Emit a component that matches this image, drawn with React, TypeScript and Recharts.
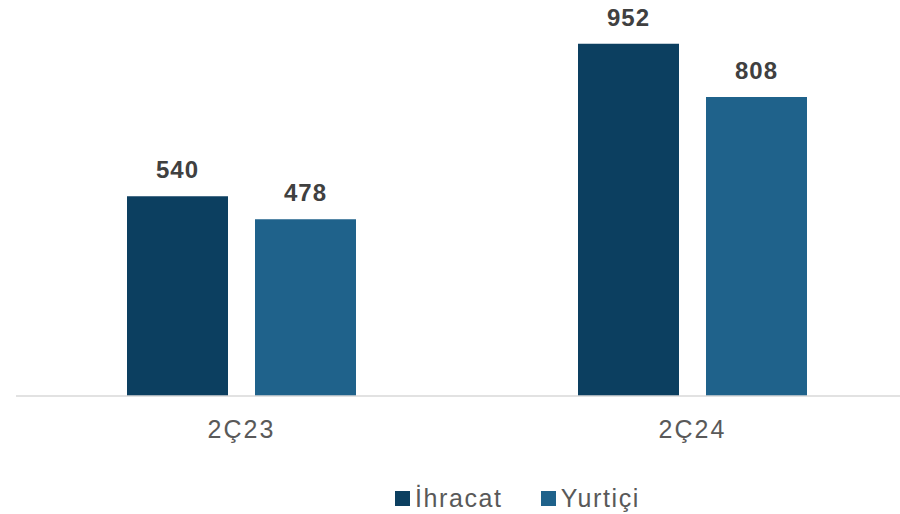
import { BarChart, Bar, XAxis, YAxis, Legend, LabelList } from "recharts";

// quarterly sales, export vs domestic
const periods = ["2Ç23", "2Ç24"];
const ihracat = [540, 952];
const yurtici = [478, 808];
const seriesNames = ["İhracat", "Yurtiçi"];
const seriesColors = ["#0c3f60", "#1f628b"];

const data = periods.map((p, i) => ({
  period: p,
  ihracat: ihracat[i],
  yurtici: yurtici[i],
}));

const FONT = '"Liberation Sans", Arial, sans-serif';

// legend keeps series order (the built-in one sorts by name)
function LegendContent() {
  return (
    <div style={{ display: "flex", alignItems: "center", fontFamily: FONT }}>
      {seriesNames.map((name, i) => (
        <div
          key={name}
          style={{
            display: "flex",
            alignItems: "center",
            marginRight: i === 0 ? 38 : 0,
          }}
        >
          <span
            style={{
              display: "inline-block",
              width: 15,
              height: 15,
              background: seriesColors[i],
              marginRight: 5,
            }}
          />
          <span style={{ fontSize: 25, color: "#595959", letterSpacing: 1.6 }}>
            {name}
          </span>
        </div>
      ))}
    </div>
  );
}

const valueLabelStyle = {
  fontSize: 24,
  fontWeight: 700,
  fill: "#404040",
  fontFamily: FONT,
  letterSpacing: 1,
};

export default function App() {
  return (
    <div
      style={{
        position: "absolute",
        left: 0,
        top: 0,
        width: 900,
        height: 514,
        overflow: "hidden",
        background: "#fff",
      }}
    >
      <BarChart
        width={920}
        height={514}
        data={data}
        margin={{ top: 26, right: 2, left: 16, bottom: 1 }}
        barSize={101}
        barGap={27}
      >
        <XAxis
          dataKey="period"
          axisLine={{ stroke: "#d9d9d9", strokeWidth: 1.5 }}
          tickLine={false}
          tickMargin={18}
          height={88}
          tick={{ fontSize: 25, fill: "#595959", fontFamily: FONT, letterSpacing: 2 }}
        />
        <YAxis hide domain={[0, 1000]} />
        <Legend
          verticalAlign="bottom"
          content={<LegendContent />}
          wrapperStyle={{ left: 395, width: "auto", bottom: 1 }}
        />
        <Bar
          dataKey="ihracat"
          name={seriesNames[0]}
          fill={seriesColors[0]}
          isAnimationActive={false}
        >
          <LabelList dataKey="ihracat" position="top" offset={18} style={valueLabelStyle} />
        </Bar>
        <Bar
          dataKey="yurtici"
          name={seriesNames[1]}
          fill={seriesColors[1]}
          isAnimationActive={false}
        >
          <LabelList dataKey="yurtici" position="top" offset={18} style={valueLabelStyle} />
        </Bar>
      </BarChart>
    </div>
  );
}
